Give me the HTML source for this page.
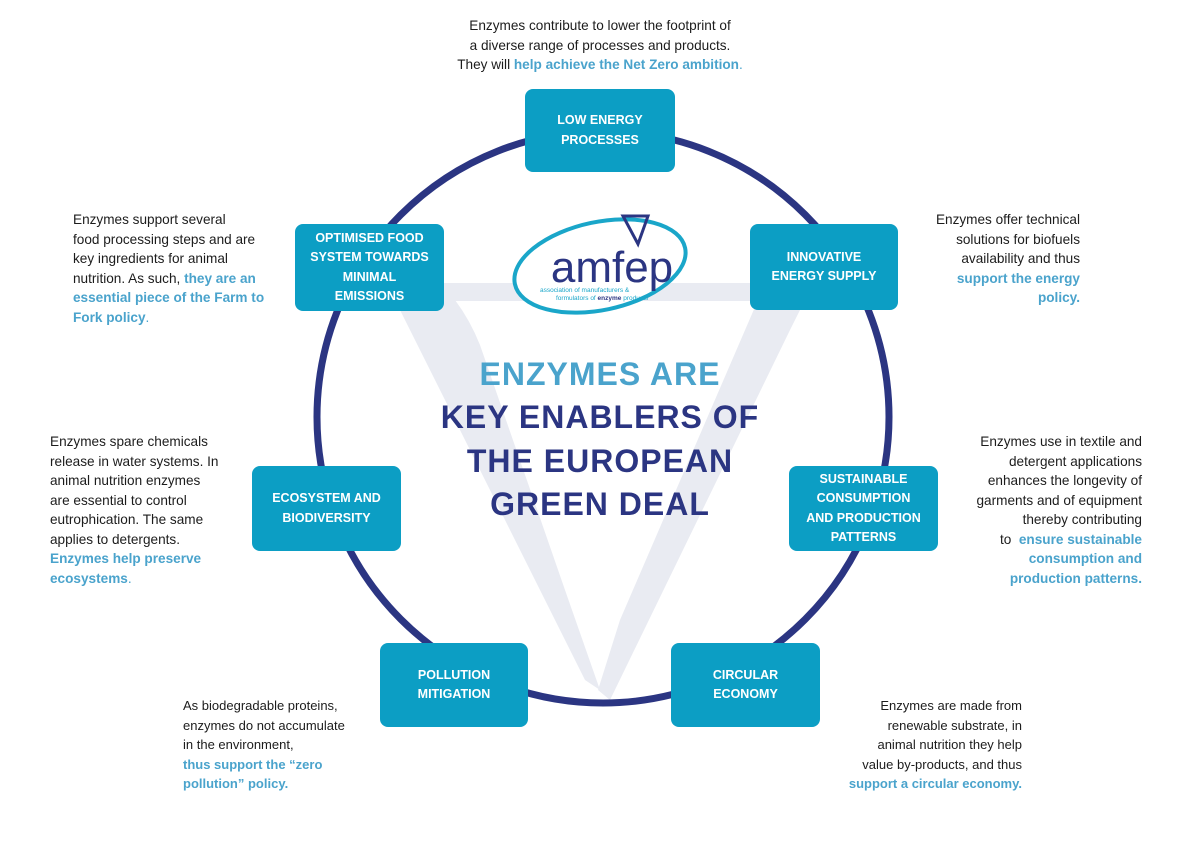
<!DOCTYPE html>
<html><head><meta charset="utf-8"><style>
body{margin:0;background:#fff;}
#c{position:relative;width:1200px;height:846px;overflow:hidden;background:#fff;font-family:"Liberation Sans",sans-serif;}
.t{position:absolute;font-size:13.6px;line-height:19.5px;color:#1c1c1c;white-space:nowrap;}
.b{color:#4aa3cc;font-weight:bold;}
.r{text-align:right;}
.box{position:absolute;background:#0c9ec4;border-radius:8px;color:#fff;font-weight:bold;font-size:12.5px;line-height:19.5px;text-align:center;display:flex;align-items:center;justify-content:center;}
.h{position:absolute;left:0;width:1200px;text-align:center;font-weight:bold;font-size:32px;letter-spacing:1px;color:#2b3582;}
</style></head><body><div id="c">
<svg width="1200" height="846" style="position:absolute;left:0;top:0">
<g fill="#e9ebf2">
<rect x="330" y="283" width="480" height="18"/>
<path d="M395 300 L455 300 Q470 320 480 345 L565 590 L600 690 L585 680 Z"/>
<path d="M758 300 L805 300 L790 330 L610 700 L598 690 L620 620 Z"/>
</g>
<circle cx="603" cy="417" r="286" fill="none" stroke="#2b3582" stroke-width="7"/>
</svg>
<div class="box" style="left:525px;top:89px;width:150px;height:83px">LOW ENERGY<br>PROCESSES</div>
<div class="box" style="left:295px;top:224px;width:149px;height:87px">OPTIMISED FOOD<br>SYSTEM TOWARDS<br>MINIMAL<br>EMISSIONS</div>
<div class="box" style="left:750px;top:224px;width:148px;height:86px">INNOVATIVE<br>ENERGY SUPPLY</div>
<div class="box" style="left:252px;top:466px;width:149px;height:85px">ECOSYSTEM AND<br>BIODIVERSITY</div>
<div class="box" style="left:789px;top:466px;width:149px;height:85px">SUSTAINABLE<br>CONSUMPTION<br>AND PRODUCTION<br>PATTERNS</div>
<div class="box" style="left:380px;top:643px;width:148px;height:84px">POLLUTION<br>MITIGATION</div>
<div class="box" style="left:671px;top:643px;width:149px;height:84px">CIRCULAR<br>ECONOMY</div>

<svg width="1200" height="846" style="position:absolute;left:0;top:0">
<ellipse cx="600" cy="266" rx="87" ry="44" transform="rotate(-12 600 266)" fill="#fff" stroke="#1aa6c9" stroke-width="4"/>
<path d="M623 216 L648 216 L638 244 Z" fill="none" stroke="#2b3582" stroke-width="3"/>
<text x="612" y="282" text-anchor="middle" font-family="Liberation Sans,sans-serif" font-size="44" fill="#2b3582">amfep</text>
<text x="540" y="292" font-family="Liberation Sans,sans-serif" font-size="6.5" fill="#1aa6c9">association of manufacturers &amp;</text>
<text x="556" y="300" font-family="Liberation Sans,sans-serif" font-size="6.5" fill="#1aa6c9">formulators of <tspan fill="#2b3582" font-weight="bold">enzyme</tspan> products</text>
</svg>

<div class="h" style="top:356px;color:#4aa3cc">ENZYMES ARE</div>
<div class="h" style="top:399px">KEY ENABLERS OF</div>
<div class="h" style="top:443px">THE EUROPEAN</div>
<div class="h" style="top:486px">GREEN DEAL</div>

<div class="t" style="left:0;width:1200px;text-align:center;top:16px">Enzymes contribute to lower the footprint of<br>a diverse range of processes and products.<br>They will <span class="b">help achieve the Net Zero ambition</span><span style="color:#4aa3cc">.</span></div>
<div class="t" style="left:73px;top:210px">Enzymes support several<br>food processing steps and are<br>key ingredients for animal<br>nutrition. As such, <span class="b">they are an<br>essential piece of the Farm to<br>Fork policy</span><span style="color:#4aa3cc">.</span></div>
<div class="t r" style="right:120px;top:210px">Enzymes offer technical<br>solutions for biofuels<br>availability and thus<br><span class="b">support the energy<br>policy.</span></div>
<div class="t" style="left:50px;top:432px">Enzymes spare chemicals<br>release in water systems. In<br>animal nutrition enzymes<br>are essential to control<br>eutrophication. The same<br>applies to detergents.<br><span class="b">Enzymes help preserve<br>ecosystems</span><span style="color:#4aa3cc">.</span></div>
<div class="t r" style="right:58px;top:432px">Enzymes use in textile and<br>detergent applications<br>enhances the longevity of<br>garments and of equipment<br>thereby contributing<br>to &nbsp;<span class="b">ensure sustainable<br>consumption and<br>production patterns.</span></div>
<div class="t" style="left:183px;top:696px;font-size:13px">As biodegradable proteins,<br>enzymes do not accumulate<br>in the environment,<br><span class="b">thus support the “zero<br>pollution” policy.</span></div>
<div class="t r" style="right:178px;top:696px;font-size:13px">Enzymes are made from<br>renewable substrate, in<br>animal nutrition they help<br>value by-products, and thus<br><span class="b">support a circular economy.</span></div>
</div></body></html>
